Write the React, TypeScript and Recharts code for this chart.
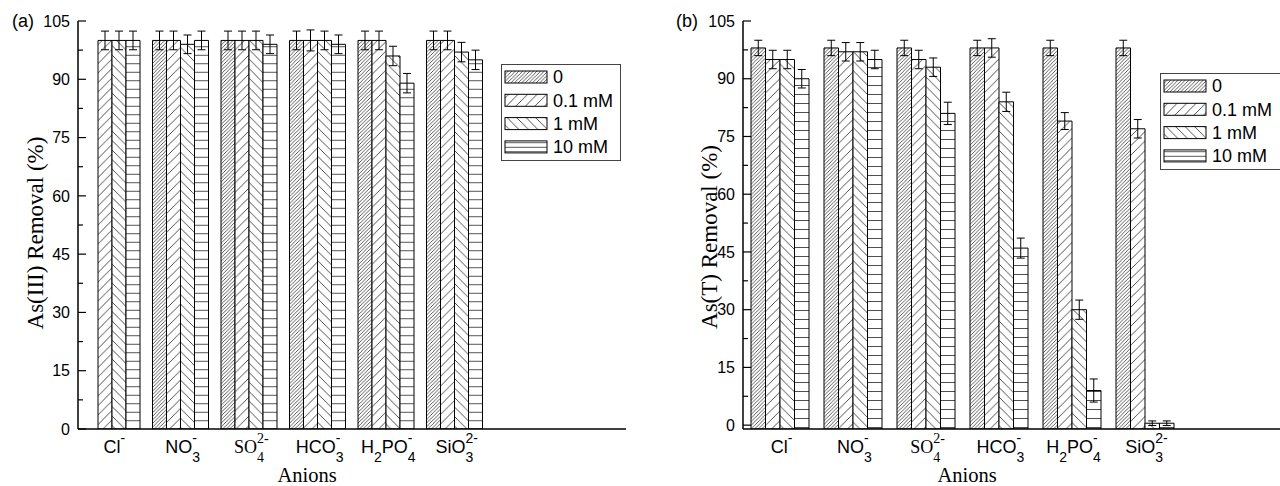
import React from 'react';
import { BarChart, Bar, XAxis, YAxis, ErrorBar, Legend } from 'recharts';

const SANS = '"Liberation Sans", Arial, Helvetica, sans-serif';
const SERIF = '"Liberation Serif", "Times New Roman", serif';

const categories = ['Cl-', 'NO3-', 'SO4 2-', 'HCO3-', 'H2PO4-', 'SiO3 2-', 'pad1', 'pad2'];
const seriesNames = ['0', '0.1 mM', '1 mM', '10 mM'];
const yTicks = [0, 7.5, 15, 22.5, 30, 37.5, 45, 52.5, 60, 67.5, 75, 82.5, 90, 97.5, 105];
const Y_MAX = 105;
const Y_MIN_A = 0;
const Y_MIN_B = -1;

// Panel (a): As(III) removal (%)
const as3_0 = [null, 100, 100, 100, 100, 100, null, null];
const as3_01 = [100, 100, 100, 100, 100, 100, null, null];
const as3_1 = [100, 99, 100, 100, 96, 97, null, null];
const as3_10 = [100, 100, 99, 99, 89, 95, null, null];
const as3_err0 = [null, 2.4, 2.4, 2.4, 2.4, 2.4, null, null];
const as3_err01 = [2.4, 2.4, 2.4, 2.7, 2.4, 2.4, null, null];
const as3_err1 = [2.4, 2.4, 2.4, 2.4, 2.5, 2.5, null, null];
const as3_err10 = [2.4, 2.4, 2.4, 2.4, 2.5, 2.5, null, null];

// Panel (b): As(T) removal (%)
const asT_0 = [98, 98, 98, 98, 98, 98, null, null];
const asT_01 = [95, 97, 95, 98, 79, 77, null, null];
const asT_1 = [95, 97, 93, 84, 30, 0.5, null, null];
const asT_10 = [90, 95, 81, 46, 9, 0.5, null, null];
const asT_err0 = [2, 2, 2, 2, 2, 2, null, null];
const asT_err01 = [2.4, 2.4, 2.4, 2.4, 2.2, 2.4, null, null];
const asT_err1 = [2.4, 2.4, 2.4, 2.5, 2.5, 0.6, null, null];
const asT_err10 = [2.4, 2.4, 2.9, 2.6, 3, 0.6, null, null];

type Seg = { t: string; k: 'n' | 'sub' | 'sup' | 'supS' };
const tickLabels: Record<string, { serif?: boolean; segs: Seg[] }> = {
  'Cl-': { segs: [{ t: 'Cl', k: 'n' }, { t: '-', k: 'sup' }] },
  'NO3-': { segs: [{ t: 'NO', k: 'n' }, { t: '3', k: 'sub' }, { t: '-', k: 'supS' }] },
  'SO4 2-': { serif: true, segs: [{ t: 'SO', k: 'n' }, { t: '4', k: 'sub' }, { t: '2-', k: 'supS' }] },
  'HCO3-': { segs: [{ t: 'HCO', k: 'n' }, { t: '3', k: 'sub' }, { t: '-', k: 'supS' }] },
  'H2PO4-': { segs: [{ t: 'H', k: 'n' }, { t: '2', k: 'sub' }, { t: 'PO', k: 'n' }, { t: '4', k: 'sub' }, { t: '-', k: 'supS' }] },
  'SiO3 2-': { segs: [{ t: 'SiO', k: 'n' }, { t: '3', k: 'sub' }, { t: '2-', k: 'supS' }] },
};

const buildRows = (vals: (number | null)[][], errs: (number | null)[][]) =>
  categories.map((name, i) => ({
    name,
    v0: vals[0][i], v1: vals[1][i], v2: vals[2][i], v3: vals[3][i],
    e0: errs[0][i], e1: errs[1][i], e2: errs[2][i], e3: errs[3][i],
  }));

const dataA = buildRows([as3_0, as3_01, as3_1, as3_10], [as3_err0, as3_err01, as3_err1, as3_err10]);
const dataB = buildRows([asT_0, asT_01, asT_1, asT_10], [asT_err0, asT_err01, asT_err1, asT_err10]);

const diagF = (s: number) =>
  `M${-s / 4},${s / 4} L${s / 4},${-s / 4} M0,${s} L${s},0 M${(3 * s) / 4},${(5 * s) / 4} L${(5 * s) / 4},${(3 * s) / 4}`;
const diagB = (s: number) =>
  `M0,0 L${s},${s} M${-s / 4},${(3 * s) / 4} L${s / 4},${(5 * s) / 4} M${(3 * s) / 4},${-s / 4} L${(5 * s) / 4},${s / 4}`;

const patterns = (p: string, hs: number) => [
  <pattern key="p0" id={`${p}0`} patternUnits="userSpaceOnUse" width={3.6} height={3.6}>
    <rect width={3.6} height={3.6} fill="#fff" />
    <path d={diagF(3.6)} stroke="#333" strokeWidth={0.8} />
  </pattern>,
  <pattern key="p1" id={`${p}1`} patternUnits="userSpaceOnUse" width={9.5} height={9.5}>
    <rect width={9.5} height={9.5} fill="#fff" />
    <path d={diagF(9.5)} stroke="#222" strokeWidth={0.8} />
  </pattern>,
  <pattern key="p2" id={`${p}2`} patternUnits="userSpaceOnUse" width={9.5} height={9.5}>
    <rect width={9.5} height={9.5} fill="#fff" />
    <path d={diagB(9.5)} stroke="#222" strokeWidth={0.8} />
  </pattern>,
  <pattern key="p3" id={`${p}3`} patternUnits="userSpaceOnUse" width={10} height={hs}>
    <rect width={10} height={hs} fill="#fff" />
    <path d={`M0,${hs / 2} L10,${hs / 2}`} stroke="#222" strokeWidth={0.8} />
  </pattern>,
];

const YTick = (props: any) => {
  const { x, y, payload } = props;
  const v = payload.value;
  const major = v % 15 === 0;
  const ax = x + 8;
  return (
    <g>
      <line x1={ax} x2={ax + (major ? 8 : 5)} y1={y} y2={y} stroke="#000" strokeWidth={1.2} />
      {major && (
        <text x={x} y={y} dy="0.36em" textAnchor="end" fontSize={16} fontFamily={SANS} fill="#000">
          {v}
        </text>
      )}
    </g>
  );
};

const XTick = (props: any) => {
  const { x, y, payload } = props;
  const lab = tickLabels[payload.value];
  if (!lab) return null;
  const main = 18;
  const small = 14;
  const digitW = lab.serif ? 0.5 : 0.556;
  let cur = 0;
  let lastSubLen = 0;
  const spans = lab.segs.map((s, i) => {
    let target = 0;
    let dx = 0;
    let fs = main;
    if (s.k === 'sub') {
      target = 9.5;
      fs = small;
      lastSubLen = s.t.length;
    } else if (s.k === 'sup') {
      target = -9.5;
      fs = small;
    } else if (s.k === 'supS') {
      target = -9.5;
      fs = small;
      dx = -lastSubLen * small * digitW;
    }
    const dy = target - cur;
    cur = target;
    return (
      <tspan key={i} dx={dx} dy={dy} fontSize={fs}>
        {s.t}
      </tspan>
    );
  });
  return (
    <text x={x + 2} y={y + 23.5} textAnchor="middle" fontFamily={lab.serif ? SERIF : SANS} fill="#000">
      {spans}
    </text>
  );
};

const YTitle = (props: any) => {
  const { tx, ty, title, tag, tagX } = props;
  return (
    <g>
      <text x={tagX} y={27} fontSize={18} fontFamily={SANS} fill="#000">
        {tag}
      </text>
      <text
        x={tx}
        y={ty}
        transform={`rotate(-90 ${tx} ${ty})`}
        textAnchor="middle"
        fontSize={23}
        fontFamily={SERIF}
        fill="#000"
      >
        {title}
      </text>
    </g>
  );
};

const XTitle = (props: any) => {
  const { tx, ty, title } = props;
  return (
    <text x={tx} y={ty} textAnchor="middle" fontSize={20.5} fontFamily={SERIF} fill="#000">
      {title}
    </text>
  );
};

const LegendBox = ({ prefix, width }: { prefix: string; width: number }) => (
  <svg width={width} height={98} style={{ display: 'block', overflow: 'visible' }}>
    <defs>{patterns(prefix, 4.5)}</defs>
    <rect x={0.5} y={0.5} width={width - 1} height={96} fill="#fff" stroke="#444" strokeWidth={1} />
    {seriesNames.map((n, i) => (
      <g key={n}>
        <rect x={4} y={7 + i * 23.3} width={42} height={12} fill={`url(#${prefix}${i})`} stroke="#000" strokeWidth={1} />
        <text x={52} y={13 + i * 23.3} dy="0.36em" fontSize={18} fontFamily={SANS} fill="#000">
          {n}
        </text>
      </g>
    ))}
  </svg>
);

const axisStyle = { stroke: '#000', strokeWidth: 1.5 };

type PanelProps = {
  data: any[];
  prefix: string;
  width: number;
  yWidth: number;
  marginRight: number;
  yMin: number;
  barSize: number;
  hs: number;
  tag: string;
  tagX: number;
  title: string;
  titleX: number;
  titleY: number;
  xTitleX: number;
  legendLeft: number;
  legendTop: number;
  legendWidth: number;
  rightBorder: boolean;
};

const Panel = (p: PanelProps) => (
  <BarChart
    width={p.width}
    height={486}
    data={p.data}
    margin={{ top: 21, right: p.marginRight, left: 0, bottom: 0 }}
    barGap={0}
    barCategoryGap={0}
  >
    <defs>{patterns(p.prefix, p.hs)}</defs>
    <XAxis
      dataKey="name"
      interval={0}
      tick={<XTick />}
      tickLine={false}
      tickSize={0}
      tickMargin={0}
      height={57}
      axisLine={axisStyle}
      label={<XTitle tx={p.xTitleX} ty={481.5} title="Anions" />}
    />
    <XAxis xAxisId="top" orientation="top" dataKey="name" tick={false} tickLine={false} height={0} axisLine={axisStyle} />
    <YAxis
      domain={[p.yMin, Y_MAX]}
      ticks={yTicks}
      interval={0}
      allowDataOverflow
      tick={<YTick />}
      tickLine={false}
      tickSize={0}
      tickMargin={8}
      width={p.yWidth}
      axisLine={axisStyle}
      label={<YTitle tx={p.titleX} ty={p.titleY} title={p.title} tag={p.tag} tagX={p.tagX} />}
    />
    {p.rightBorder && (
      <YAxis yAxisId="r" orientation="right" domain={[p.yMin, Y_MAX]} width={0} tick={false} tickLine={false} axisLine={axisStyle} />
    )}
    <Legend
      layout="vertical"
      align="center"
      verticalAlign="middle"
      wrapperStyle={{ left: p.legendLeft, top: p.legendTop, width: p.legendWidth, height: 98 }}
      content={() => <LegendBox prefix={p.prefix + 'L'} width={p.legendWidth} />}
    />
    {seriesNames.map((n, i) => (
      <Bar
        key={n}
        name={n}
        dataKey={(d: any) => (d[`v${i}`] == null ? null : [p.yMin, d[`v${i}`]])}
        fill={`url(#${p.prefix}${i})`}
        stroke="#000"
        strokeWidth={1}
        barSize={p.barSize}
        isAnimationActive={false}
      >
        <ErrorBar dataKey={`e${i}`} width={4} stroke="#000" strokeWidth={1} direction="y" />
      </Bar>
    ))}
  </BarChart>
);

export default function App() {
  return (
    <div
      style={{
        position: 'relative',
        width: 1280,
        height: 486,
        overflow: 'hidden',
        background: '#fff',
      }}
    >
      <style>{'html,body{margin:0;padding:0;overflow:hidden;background:#fff;}'}</style>
      <div style={{ position: 'absolute', left: 0, top: 0, width: 640, height: 486 }}>
        <Panel
          data={dataA}
          prefix="pa"
          width={640}
          yWidth={78}
          marginRight={14}
          yMin={Y_MIN_A}
          barSize={14}
          hs={8.5}
          tag="(a)"
          tagX={12}
          title="As(III) Removal (%)"
          titleX={43}
          titleY={233}
          xTitleX={307}
          legendLeft={501}
          legendTop={64}
          legendWidth={120}
          rightBorder={true}
        />
      </div>
      <div style={{ position: 'absolute', left: 640, top: 0, width: 640, height: 486, overflow: 'hidden' }}>
        <Panel
          data={dataB}
          prefix="pb"
          width={640}
          yWidth={103}
          marginRight={-47}
          yMin={Y_MIN_B}
          barSize={14.5}
          hs={9}
          tag="(b)"
          tagX={36}
          title="As(T) Removal (%)"
          titleX={77}
          titleY={237}
          xTitleX={327}
          legendLeft={520}
          legendTop={73}
          legendWidth={130}
          rightBorder={false}
        />
      </div>
    </div>
  );
}
